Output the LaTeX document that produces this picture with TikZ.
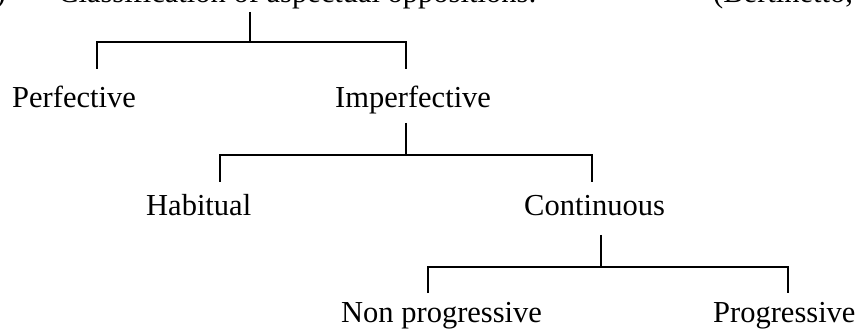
\documentclass[tikz,border=0pt]{standalone}
\usepackage{fontspec}
\setmainfont{Liberation Serif}
\begin{document}
\begin{tikzpicture}[x=1pt,y=-1pt,
  lbl/.style={anchor=base west,inner sep=0pt,font=\fontsize{30.5}{36}\selectfont},
  conn/.style={line width=1.2pt}]
\useasboundingbox (0,0) rectangle (857,331);
\clip (0,0) rectangle (857,331);
% partially visible heading
\node[lbl,anchor=base east] (num) at (6,3) {)};
\node[lbl] (title) at (58,3) {Classification of aspectual oppositions:};
\node[lbl] (src) at (713,3) {(Bertinetto,};
% labels
\node[lbl] (perf) at (12,108) {Perfective};
\node[lbl] (imperf) at (335,108) {Imperfective};
\node[lbl] (hab) at (146,216) {Habitual};
\node[lbl] (cont) at (524,216) {Continuous};
\node[lbl] (nonprog) at (341,322) {Non progressive};
\node[lbl] (prog) at (713,322) {Progressive};
% connector points
\coordinate (t1) at (250,12);
\coordinate (j1) at (250,42);
\coordinate (p1) at (97,69);
\coordinate (i1) at (406,69);
\coordinate (t2) at (406,123);
\coordinate (j2) at (406,155);
\coordinate (h2) at (220,182);
\coordinate (c2) at (592,182);
\coordinate (t3) at (601,235);
\coordinate (j3) at (601,267);
\coordinate (n3) at (428,293);
\coordinate (g3) at (788,293);
\draw[conn] (t1) -- (j1);
\draw[conn] (p1) |- (j1) -| (i1);
\draw[conn] (t2) -- (j2);
\draw[conn] (h2) |- (j2) -| (c2);
\draw[conn] (t3) -- (j3);
\draw[conn] (n3) |- (j3) -| (g3);
\end{tikzpicture}
\end{document}
